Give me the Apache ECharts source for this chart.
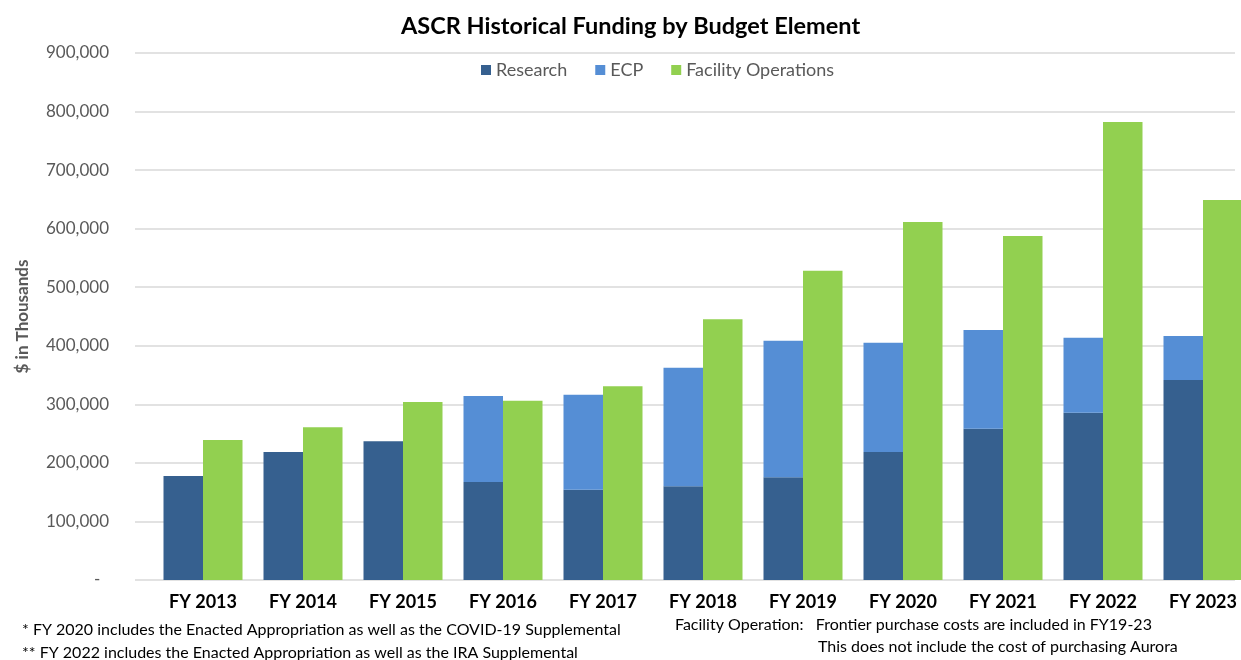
<!DOCTYPE html>
<html>
<head>
<meta charset="utf-8">
<title>ASCR Historical Funding by Budget Element</title>
<script src="https://cdn.jsdelivr.net/npm/echarts@6/dist/echarts.min.js"></script>
<style>
  html, body { margin: 0; padding: 0; background: #fff; }
  #main { width: 1241px; height: 660px; }
</style>
</head>
<body>
<div id="main"></div>
<script>
// fiscal years on the x axis
const years = ['FY 2013', 'FY 2014', 'FY 2015', 'FY 2016', 'FY 2017', 'FY 2018',
               'FY 2019', 'FY 2020', 'FY 2021', 'FY 2022', 'FY 2023']

// $ in thousands
const research = [177600, 218600, 236800, 167400, 154200, 160000, 175300, 218600, 258400, 285700, 341500]
const ecp      = [0, 0, 0, 146800, 162300, 202600, 233400, 186700, 168600, 128100, 75200]
const facility = [239000, 260700, 304000, 306200, 330700, 445200, 528000, 611300, 587400, 782000, 649000]

const yMin = 0
const yMax = 900000
const yStep = 100000

const font = 'Lato'
const grey = '#595959'

const main = document.getElementById('main')
const myChart = echarts.init(main)

const option = {
    animation: false,
    textStyle: { fontFamily: font },
    title: {
        text: 'ASCR Historical Funding by Budget Element',
        left: 396,
        top: 9,
        textStyle: { fontFamily: font, fontWeight: 'bold', fontSize: 23.5, color: '#000' }
    },
    legend: {
        left: 476,
        top: 56,
        icon: 'rect',
        itemWidth: 10,
        itemHeight: 10,
        itemGap: 28,
        textStyle: { fontFamily: font, fontSize: 18, color: grey },
        data: ['Research', 'ECP', 'Facility Operations']
    },
    grid: [
        // grid for the gridlines and y labels
        { left: 135, right: 6, top: 53, bottom: 80, outerBoundsMode: 'none' },
        // grid for the bars (category bands run a little past the right edge)
        { left: 153, width: 1100, top: 53, bottom: 80, outerBoundsMode: 'none' }
    ],
    xAxis: [
        { gridIndex: 0, type: 'value', show: false, min: 0, max: 1 },
        {
            gridIndex: 1,
            type: 'category',
            data: years,
            axisLine: { show: false },
            axisTick: { show: false },
            axisLabel: {
                margin: 13,
                fontFamily: font,
                fontWeight: 'bold',
                fontSize: 18,
                color: '#000'
            }
        }
    ],
    yAxis: [
        {
            gridIndex: 0,
            type: 'value',
            min: yMin,
            max: yMax,
            interval: yStep,
            name: '$ in Thousands',
            nameLocation: 'middle',
            nameGap: 104,
            nameTextStyle: { fontFamily: font, fontWeight: 'bold', fontSize: 17, color: grey },
            axisLine: { show: false },
            axisTick: { show: false },
            axisLabel: {
                margin: 26,
                fontFamily: font,
                fontSize: 17,
                color: grey,
                formatter: v => v === 0 ? '-  ' : v.toLocaleString('en-US')
            },
            splitLine: { lineStyle: { color: '#d9d9d9', width: 1.5 } }
        },
        {
            gridIndex: 1,
            type: 'value',
            min: yMin,
            max: yMax,
            interval: yStep,
            show: false,
            splitLine: { show: false }
        }
    ],
    series: [
        {
            name: 'Research',
            type: 'bar',
            stack: 'rd',
            xAxisIndex: 1,
            yAxisIndex: 1,
            barWidth: 39.5,
            barGap: '0%',
            itemStyle: { color: '#36608f' },
            data: research
        },
        {
            name: 'ECP',
            type: 'bar',
            stack: 'rd',
            xAxisIndex: 1,
            yAxisIndex: 1,
            barWidth: 39.5,
            barGap: '0%',
            itemStyle: { color: '#558ed5' },
            data: ecp
        },
        {
            name: 'Facility Operations',
            type: 'bar',
            xAxisIndex: 1,
            yAxisIndex: 1,
            barWidth: 39.5,
            barGap: '0%',
            itemStyle: { color: '#92d050' },
            data: facility
        }
    ],
    graphic: [
        {
            type: 'text', left: 22, top: 622,
            style: { text: '* FY 2020 includes the Enacted Appropriation as well as the COVID-19 Supplemental',
                     font: '16px Lato', fill: '#000' }
        },
        {
            type: 'text', left: 22, top: 645,
            style: { text: '** FY 2022 includes the Enacted Appropriation as well as the IRA Supplemental',
                     font: '16px Lato', fill: '#000' }
        },
        {
            type: 'text', left: 675, top: 617,
            style: { text: 'Facility Operation:   Frontier purchase costs are included in FY19-23',
                     font: '16px Lato', fill: '#000' }
        },
        {
            type: 'text', left: 818, top: 639,
            style: { text: 'This does not include the cost of purchasing Aurora',
                     font: '16px Lato', fill: '#000' }
        }
    ]
}

myChart.setOption(option)
window.onresize = function () {
    myChart.resize()
}
</script>
</body>
</html>
